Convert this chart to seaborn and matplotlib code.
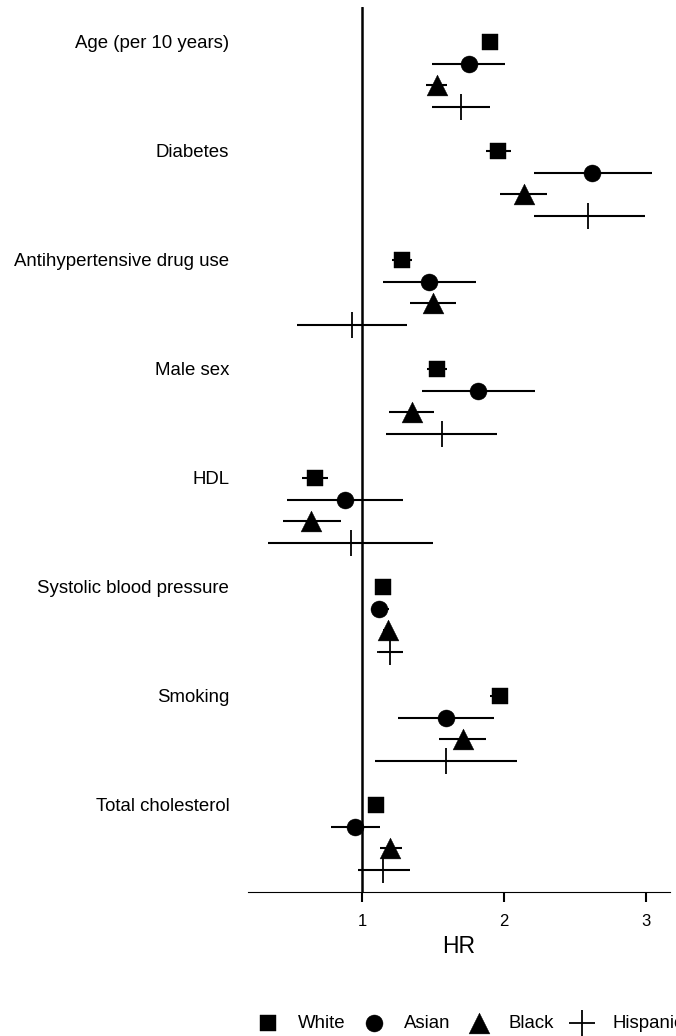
import numpy as np
import pandas as pd
import matplotlib
matplotlib.use("Agg")
import matplotlib.pyplot as plt
import seaborn as sns

categories = ["Age (per 10 years)", "Diabetes", "Antihypertensive drug use", "Male sex",
              "HDL", "Systolic blood pressure", "Smoking", "Total cholesterol"]
groups = ["White", "Asian", "Black", "Hispanic"]

white_hr = [1.90, 1.96, 1.28, 1.53, 0.67, 1.15, 1.97, 1.10]
white_lo = [1.87, 1.87, 1.21, 1.46, 0.58, 1.13, 1.90, 1.08]
white_hi = [1.93, 2.05, 1.35, 1.60, 0.76, 1.17, 2.03, 1.12]

asian_hr = [1.75, 2.62, 1.47, 1.82, 0.88, 1.12, 1.59, 0.95]
asian_lo = [1.49, 2.21, 1.15, 1.42, 0.47, 1.06, 1.25, 0.78]
asian_hi = [2.01, 3.04, 1.80, 2.22, 1.29, 1.19, 1.93, 1.13]

black_hr = [1.53, 2.14, 1.50, 1.35, 0.64, 1.18, 1.71, 1.20]
black_lo = [1.45, 1.97, 1.34, 1.19, 0.44, 1.15, 1.54, 1.13]
black_hi = [1.60, 2.30, 1.66, 1.51, 0.85, 1.21, 1.87, 1.28]

hisp_hr = [1.70, 2.59, 0.93, 1.56, 0.92, 1.20, 1.59, 1.15]
hisp_lo = [1.49, 2.21, 0.54, 1.17, 0.34, 1.12, 1.09, 0.97]
hisp_hi = [1.90, 2.99, 1.32, 1.95, 1.50, 1.29, 2.09, 1.34]

x_ticks = [1, 2, 3]
x_label = "HR"

series = {
    "White": (white_hr, white_lo, white_hi),
    "Asian": (asian_hr, asian_lo, asian_hi),
    "Black": (black_hr, black_lo, black_hi),
    "Hispanic": (hisp_hr, hisp_lo, hisp_hi),
}

rows = []
for gi, cat in enumerate(categories):
    for j, g in enumerate(groups):
        hr, lo, hi = series[g]
        rows.append(dict(category=cat, group=g, hr=hr[gi], lo=lo[gi], hi=hi[gi], pos=gi * 5 + j))
df = pd.DataFrame(rows)

sns.set_theme(style="white")
plt.rcParams["font.family"] = ["Liberation Sans", "DejaVu Sans"]
plt.rcParams["text.color"] = "black"
plt.rcParams["axes.labelcolor"] = "black"
plt.rcParams["xtick.color"] = "black"
plt.rcParams["ytick.color"] = "black"

fig = plt.figure(figsize=(6.76, 10.36), dpi=100)
ax = fig.add_axes([248 / 676, 1 - 892 / 1036, 422 / 676, (892 - 7) / 1036])

ax.axvline(1, color="black", lw=1.8, zorder=1)
ax.hlines(df["pos"], df["lo"], df["hi"], color="black", lw=1.5, zorder=2)

markers = {"White": "s", "Asian": "o", "Black": "^", "Hispanic": "+"}
sizes = {"White": 117, "Asian": 150, "Black": 225, "Hispanic": 330}
lws = {"White": 0.3, "Asian": 0.3, "Black": 0.3, "Hispanic": 1.3}
for g in groups:
    sub = df[df["group"] == g]
    sns.scatterplot(data=sub, x="hr", y="pos", marker=markers[g], s=sizes[g],
                    color="black", edgecolor="black", linewidth=lws[g],
                    ax=ax, label=g, zorder=3)

handles, labels = ax.get_legend_handles_labels()
if ax.get_legend() is not None:
    ax.get_legend().remove()

ax.set_xlim(0.197, 3.169)
ax.set_ylim(39, -1.6)
ax.set_xticks(x_ticks)
ax.set_xticklabels([str(t) for t in x_ticks], fontsize=12)
ax.set_yticks([gi * 5 for gi in range(len(categories))])
ax.set_yticklabels(categories, fontsize=13.4)
ax.tick_params(axis="y", left=False, length=0, pad=13.5, colors="black")
ax.tick_params(axis="x", bottom=True, length=7, width=1.5, direction="out", pad=9, colors="black")
ax.set_xlabel(x_label, fontsize=16.5, labelpad=4.5, color="black")
ax.set_ylabel("")
for s in ["left", "top", "right"]:
    ax.spines[s].set_visible(False)
ax.spines["bottom"].set_color("black")
ax.spines["bottom"].set_linewidth(0.8)

fig.legend(handles, labels, loc="center left", bbox_to_anchor=(258.7 / 676, 1 - 1023 / 1036),
           ncol=4, frameon=False, fontsize=13.4, handlelength=1.0, handletextpad=1.11,
           columnspacing=1.02, borderpad=0, borderaxespad=0)

fig.savefig("out.png", dpi=100)
